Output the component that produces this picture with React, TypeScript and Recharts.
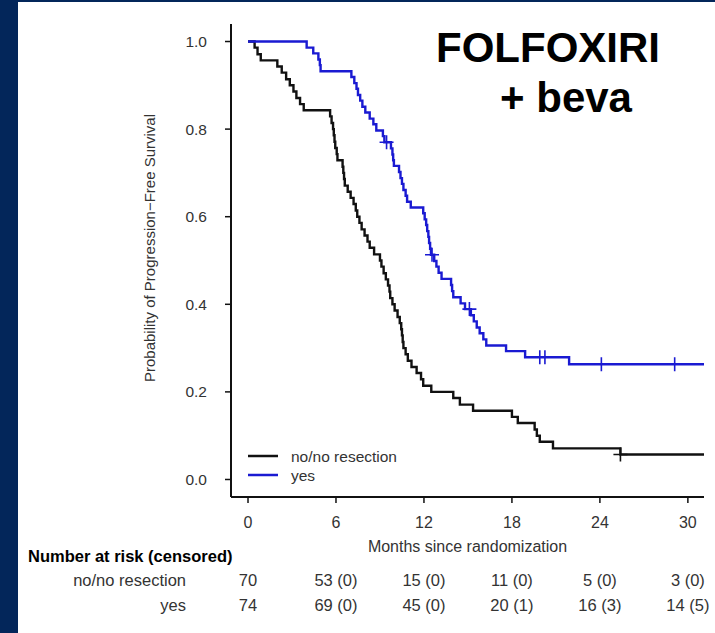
import React from "react";
import { ComposedChart, Line, Scatter, XAxis, YAxis } from "recharts";

const FONT = '"Liberation Sans", Arial, Helvetica, sans-serif';
const NAVY = "#03265a";
const INK = "#111111";
const TEXT = "#333333";
const BLACK_CURVE = "#111111";
const BLUE_CURVE = "#1a1ad2";

// Kaplan–Meier step points for the "no/no resection" arm (months, survival)
const noTimes = [
  0, 0.45, 0.65, 0.87, 2.0, 2.3, 2.6, 2.85, 3.1, 3.3, 3.55, 3.8, 5.6, 5.7, 5.8,
  5.85, 5.9, 5.95, 6.05, 6.1, 6.45, 6.5, 6.55, 6.6, 6.8, 7.0, 7.2, 7.35, 7.45,
  7.6, 7.75, 7.95, 8.15, 8.3, 8.6, 9.0, 9.1, 9.25, 9.4, 9.55, 9.65, 9.7, 9.85,
  10.0, 10.2, 10.35, 10.45, 10.5, 10.55, 10.6, 10.75, 10.9, 11.15, 11.5, 11.8,
  11.95, 12.5, 14.0, 14.45, 15.35, 18.0, 18.4, 19.55, 19.7, 19.9, 20.8, 25.4,
  31.1,
];
const noSurv = [
  1.0, 0.986, 0.971, 0.957, 0.943, 0.929, 0.914, 0.9, 0.886, 0.871, 0.857,
  0.843, 0.829, 0.814, 0.8, 0.786, 0.771, 0.757, 0.743, 0.729, 0.714, 0.7,
  0.686, 0.671, 0.657, 0.643, 0.629, 0.614, 0.6, 0.586, 0.571, 0.557, 0.543,
  0.529, 0.514, 0.5, 0.486, 0.471, 0.457, 0.443, 0.429, 0.414, 0.4, 0.386,
  0.371, 0.357, 0.343, 0.329, 0.314, 0.3, 0.286, 0.271, 0.257, 0.243, 0.229,
  0.214, 0.2, 0.186, 0.171, 0.157, 0.143, 0.129, 0.114, 0.1, 0.086, 0.071,
  0.057, 0.057,
];
const noCensorTimes = [25.4];

// Kaplan–Meier step points for the "yes" (resection) arm
const yesTimes = [
  0, 4.0, 4.45, 4.8, 4.9, 4.95, 7.05, 7.25, 7.4, 7.5, 7.65, 7.8, 8.0, 8.3,
  8.55, 8.75, 9.2, 9.3, 9.75, 9.85, 9.9, 9.95, 10.3, 10.4, 10.5, 10.6, 10.75,
  10.85, 11.1, 11.95, 12.05, 12.15, 12.22, 12.3, 12.35, 12.42, 12.48, 12.7,
  12.85, 13.0, 13.2, 13.85, 13.92, 14.0, 14.5, 14.8, 15.2, 15.4, 15.6, 15.8,
  16.05, 16.25, 17.6, 18.9, 21.9, 31.1,
];
const yesSurv = [
  1.0, 0.986, 0.973, 0.959, 0.946, 0.932, 0.919, 0.905, 0.892, 0.878, 0.865,
  0.851, 0.838, 0.824, 0.811, 0.797, 0.784, 0.77, 0.756, 0.742, 0.729, 0.716,
  0.702, 0.688, 0.675, 0.661, 0.648, 0.634, 0.621, 0.608, 0.594, 0.581, 0.567,
  0.554, 0.54, 0.527, 0.513, 0.499, 0.486, 0.472, 0.458, 0.444, 0.43, 0.416,
  0.402, 0.389, 0.375, 0.361, 0.347, 0.334, 0.32, 0.306, 0.293, 0.279, 0.263,
  0.263,
];
const yesCensorTimes = [9.45, 12.55, 15.1, 19.9, 20.25, 24.1, 29.1];

// Axis ticks
const monthTicks = [0, 6, 12, 18, 24, 30];
const probTicks = [0, 0.2, 0.4, 0.6, 0.8, 1.0];

// Number-at-risk table
const riskTimes = [0, 6, 12, 18, 24, 30];
const riskNo = ["70", "53 (0)", "15 (0)", "11 (0)", "5 (0)", "3 (0)"];
const riskYes = ["74", "69 (0)", "45 (0)", "20 (1)", "16 (3)", "14 (5)"];

const X_DOMAIN: [number, number] = [-1.16, 31.1];
const Y_DOMAIN: [number, number] = [-0.04, 1.04];

const W = 715;
const H = 633;
const PLOT = { left: 231, right: 704, top: 24, bottom: 497 };
const Y_AXIS_W = 60;
const X_AXIS_H = 40;

const toPoints = (ts: number[], ss: number[]) =>
  ts.map((t, i) => ({ t, s: ss[i] }));

// survival level of a step curve at a given time (used to place censor ticks)
const levelAt = (ts: number[], ss: number[], time: number) => {
  let v = ss[0];
  for (let i = 0; i < ts.length; i++) if (ts[i] <= time) v = ss[i];
  return v;
};

const noData = toPoints(noTimes, noSurv);
const yesData = toPoints(yesTimes, yesSurv);
const noCensor = noCensorTimes.map((t) => ({ t, s: levelAt(noTimes, noSurv, t) }));
const yesCensor = yesCensorTimes.map((t) => ({ t, s: levelAt(yesTimes, yesSurv, t) }));

const makeCensorMark = (color: string) => (props: any) => {
  const { cx, cy } = props;
  if (cx == null || cy == null) return <g />;
  const a = 7;
  return (
    <path
      d={`M${cx - a},${cy}H${cx + a}M${cx},${cy - a}V${cy + a}`}
      stroke={color}
      strokeWidth={1.6}
      fill="none"
    />
  );
};

const xPos = (t: number) =>
  PLOT.left + ((t - X_DOMAIN[0]) / (X_DOMAIN[1] - X_DOMAIN[0])) * (PLOT.right - PLOT.left);

const yTickStyle = { fill: TEXT, fontSize: 15.5, fontFamily: FONT };
const xTickStyle = { fill: TEXT, fontSize: 16, fontFamily: FONT };
const TABLE_FS = 16.5;

export default function App() {
  return (
    <div
      style={{
        position: "absolute",
        left: 0,
        top: 0,
        width: W,
        height: H,
        background: "#ffffff",
        overflow: "hidden",
        fontFamily: FONT,
      }}
    >
      <div style={{ position: "absolute", left: 0, top: 0, width: 18, height: H, background: NAVY }} />
      <div style={{ position: "absolute", left: 0, top: 0, width: W, height: 2, background: NAVY }} />

      <div style={{ position: "absolute", left: 0, top: 0 }}>
        <ComposedChart
          width={W}
          height={H}
          margin={{
            top: PLOT.top,
            right: W - PLOT.right,
            bottom: H - PLOT.bottom - X_AXIS_H,
            left: PLOT.left - Y_AXIS_W,
          }}
        >
          <XAxis
            type="number"
            dataKey="t"
            domain={X_DOMAIN}
            allowDataOverflow
            ticks={monthTicks}
            interval={0}
            height={X_AXIS_H}
            axisLine={{ stroke: INK, strokeWidth: 2 }}
            tickLine={{ stroke: INK, strokeWidth: 1.5 }}
            tickSize={6}
            tickMargin={14}
            tick={xTickStyle}
          />
          <YAxis
            type="number"
            domain={Y_DOMAIN}
            allowDataOverflow
            ticks={probTicks}
            interval={0}
            width={Y_AXIS_W}
            tickFormatter={(v: number) => v.toFixed(1)}
            axisLine={{ stroke: INK, strokeWidth: 2 }}
            tickLine={{ stroke: INK, strokeWidth: 1.5 }}
            tickSize={6}
            tickMargin={18}
            tick={yTickStyle}
          />
          <Line
            data={noData}
            dataKey="s"
            type="stepAfter"
            stroke={BLACK_CURVE}
            strokeWidth={2.4}
            dot={false}
            isAnimationActive={false}
          />
          <Line
            data={yesData}
            dataKey="s"
            type="stepAfter"
            stroke={BLUE_CURVE}
            strokeWidth={2.4}
            dot={false}
            isAnimationActive={false}
          />
          <Scatter
            data={noCensor}
            dataKey="s"
            shape={makeCensorMark(BLACK_CURVE)}
            isAnimationActive={false}
          />
          <Scatter
            data={yesCensor}
            dataKey="s"
            shape={makeCensorMark(BLUE_CURVE)}
            isAnimationActive={false}
          />
        </ComposedChart>
      </div>

      <svg
        width={W}
        height={H}
        style={{ position: "absolute", left: 0, top: 0, pointerEvents: "none" }}
        fontFamily={FONT}
      >
        {/* regimen title */}
        <text x={548} y={62} textAnchor="middle" fontSize={42} fontWeight="bold" fill="#000">
          FOLFOXIRI
        </text>
        <text x={566} y={112} textAnchor="middle" fontSize={42} fontWeight="bold" fill="#000">
          + beva
        </text>

        {/* axis titles */}
        <text
          transform="translate(155, 248) rotate(-90)"
          textAnchor="middle"
          fontSize={15}
          fill={TEXT}
        >
          Probability of Progression−Free Survival
        </text>
        <text x={(PLOT.left + PLOT.right) / 2} y={552} textAnchor="middle" fontSize={16} fill={TEXT}>
          Months since randomization
        </text>

        {/* legend */}
        <line x1={248} x2={278} y1={456} y2={456} stroke={BLACK_CURVE} strokeWidth={2.5} />
        <line x1={248} x2={278} y1={475} y2={475} stroke={BLUE_CURVE} strokeWidth={2.5} />
        <text x={291} y={461.5} fontSize={15.5} fill={TEXT}>no/no resection</text>
        <text x={291} y={480.5} fontSize={15.5} fill={TEXT}>yes</text>

        {/* number at risk */}
        <text x={28} y={562} fontSize={16.5} fontWeight="bold" fill="#000">
          Number at risk (censored)
        </text>
        <text x={186} y={586} textAnchor="end" fontSize={TABLE_FS} fill={TEXT}>no/no resection</text>
        <text x={186} y={611} textAnchor="end" fontSize={TABLE_FS} fill={TEXT}>yes</text>
        {riskTimes.map((t, i) => (
          <text key={`n${t}`} x={xPos(t)} y={586} textAnchor="middle" fontSize={TABLE_FS} fill={TEXT}>
            {riskNo[i]}
          </text>
        ))}
        {riskTimes.map((t, i) => (
          <text key={`y${t}`} x={xPos(t)} y={611} textAnchor="middle" fontSize={TABLE_FS} fill={TEXT}>
            {riskYes[i]}
          </text>
        ))}
      </svg>
    </div>
  );
}
